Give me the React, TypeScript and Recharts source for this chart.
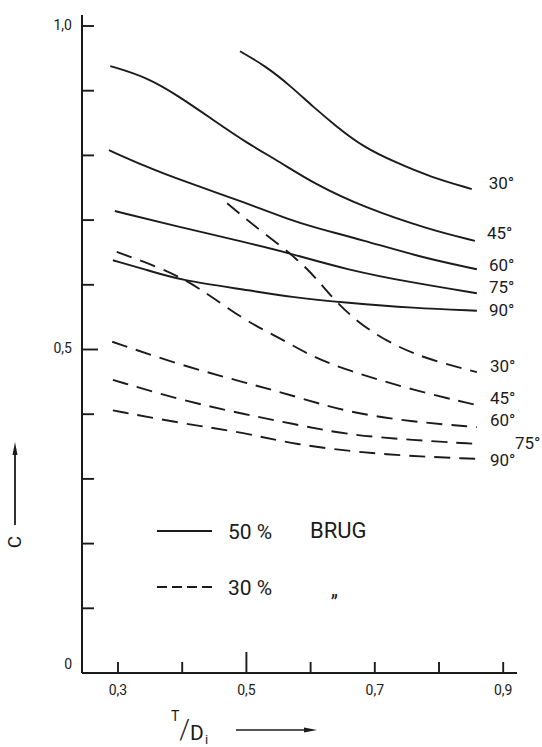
import { LineChart, Line, XAxis, YAxis, Legend } from "recharts";

// C against T/Di, five inclination angles, 50 % and 30 % BRUG
const angles = ["30°", "45°", "60°", "75°", "90°"];

const solid30 = [
  { x: 0.49, y: 0.961 },
  { x: 0.53, y: 0.938 },
  { x: 0.568, y: 0.908 },
  { x: 0.604, y: 0.875 },
  { x: 0.641, y: 0.844 },
  { x: 0.682, y: 0.813 },
  { x: 0.735, y: 0.788 },
  { x: 0.786, y: 0.767 },
  { x: 0.851, y: 0.748 },
];
const solid45 = [
  { x: 0.288, y: 0.938 },
  { x: 0.345, y: 0.921 },
  { x: 0.397, y: 0.89 },
  { x: 0.448, y: 0.855 },
  { x: 0.501, y: 0.819 },
  { x: 0.552, y: 0.79 },
  { x: 0.604, y: 0.757 },
  { x: 0.682, y: 0.72 },
  { x: 0.786, y: 0.685 },
  { x: 0.856, y: 0.668 },
];
const solid60 = [
  { x: 0.286, y: 0.808 },
  { x: 0.345, y: 0.782 },
  { x: 0.397, y: 0.762 },
  { x: 0.501, y: 0.726 },
  { x: 0.568, y: 0.7 },
  { x: 0.604, y: 0.689 },
  { x: 0.682, y: 0.669 },
  { x: 0.77, y: 0.643 },
  { x: 0.859, y: 0.624 },
];
const solid75 = [
  { x: 0.295, y: 0.714 },
  { x: 0.397, y: 0.689 },
  { x: 0.501, y: 0.665 },
  { x: 0.56, y: 0.651 },
  { x: 0.657, y: 0.623 },
  { x: 0.76, y: 0.603 },
  { x: 0.859, y: 0.587 },
];
const solid90 = [
  { x: 0.292, y: 0.638 },
  { x: 0.345, y: 0.623 },
  { x: 0.397, y: 0.607 },
  { x: 0.501, y: 0.592 },
  { x: 0.568, y: 0.581 },
  { x: 0.657, y: 0.572 },
  { x: 0.76, y: 0.564 },
  { x: 0.859, y: 0.56 },
];

const dashed30 = [
  { x: 0.47, y: 0.726 },
  { x: 0.526, y: 0.68 },
  { x: 0.579, y: 0.641 },
  { x: 0.615, y: 0.603 },
  { x: 0.641, y: 0.572 },
  { x: 0.682, y: 0.535 },
  { x: 0.735, y: 0.504 },
  { x: 0.786, y: 0.484 },
  { x: 0.859, y: 0.465 },
];
const dashed45 = [
  { x: 0.298, y: 0.651 },
  { x: 0.361, y: 0.628 },
  { x: 0.407, y: 0.607 },
  { x: 0.448, y: 0.58 },
  { x: 0.501, y: 0.543 },
  { x: 0.557, y: 0.515 },
  { x: 0.604, y: 0.488 },
  { x: 0.657, y: 0.468 },
  { x: 0.76, y: 0.437 },
  { x: 0.859, y: 0.414 },
];
const dashed60 = [
  { x: 0.291, y: 0.512 },
  { x: 0.397, y: 0.476 },
  { x: 0.501, y: 0.448 },
  { x: 0.568, y: 0.43 },
  { x: 0.657, y: 0.403 },
  { x: 0.76, y: 0.388 },
  { x: 0.859, y: 0.38 },
];
const dashed75 = [
  { x: 0.292, y: 0.453 },
  { x: 0.397, y: 0.422 },
  { x: 0.501, y: 0.399 },
  { x: 0.568, y: 0.386 },
  { x: 0.657, y: 0.368 },
  { x: 0.76, y: 0.36 },
  { x: 0.859, y: 0.354 },
];
const dashed90 = [
  { x: 0.292, y: 0.406 },
  { x: 0.397, y: 0.386 },
  { x: 0.501, y: 0.371 },
  { x: 0.568, y: 0.354 },
  { x: 0.708, y: 0.337 },
  { x: 0.859, y: 0.331 },
];

const brug50 = [solid30, solid45, solid60, solid75, solid90];
const brug30 = [dashed30, dashed45, dashed60, dashed75, dashed90];

const xTicks = [0.3, 0.4, 0.5, 0.6, 0.7, 0.8, 0.9];
const xLabelled = [0.3, 0.5, 0.7, 0.9];
const yTicks = [0, 0.1, 0.2, 0.3, 0.4, 0.5, 0.6, 0.7, 0.8, 0.9, 1.0];
const yLabelled = [0, 0.5, 1.0];

const legendRows = [
  { pct: "50 %", note: "BRUG", dashed: false },
  { pct: "30 %", note: "„", dashed: true },
];

const INK = "#1b1b1b";
const FONT = "Roboto, 'DejaVu Sans', sans-serif";
const DASH = "16 9";

// where the angle text sits relative to the last point of each curve
const solidNudge = [
  [17, -6],
  [12, -8],
  [12, -4],
  [12, -6],
  [12, -1],
];
const dashedNudge = [
  [13, -6],
  [13, -7],
  [13, -7],
  [38, -1],
  [13, 1],
];

const comma = (v: number) => (v === 0 ? "0" : v.toFixed(1).replace(".", ","));

const XTick = (props: any) => {
  const { x, y, payload } = props;
  const v = payload.value;
  const len = Math.abs(v - 0.5) < 1e-6 ? 21 : 11;
  const show = xLabelled.some((t) => Math.abs(t - v) < 1e-6);
  return (
    <g>
      <line x1={x} y1={y} x2={x} y2={y - len} stroke={INK} strokeWidth={1.9} />
      {show && (
        <text x={x} y={y + 22} textAnchor="middle" fontSize={14} fontFamily={FONT} fill={INK}>
          {comma(v)}
        </text>
      )}
    </g>
  );
};

const YTick = (props: any) => {
  const { x, y, payload } = props;
  const v = payload.value;
  const show = yLabelled.some((t) => Math.abs(t - v) < 1e-6);
  const len = Math.abs(v - 0.5) < 1e-6 ? 16 : 12;
  return (
    <g>
      {v > 0 && <line x1={x} y1={y} x2={x + len} y2={y} stroke={INK} strokeWidth={1.9} />}
      {show && (
        <text
          x={x - 10}
          y={v === 0 ? y - 4 : y + 4}
          textAnchor="end"
          fontSize={14}
          fontFamily={FONT}
          fill={INK}
        >
          {comma(v)}
        </text>
      )}
    </g>
  );
};

const endLabel = (text: string, last: number, dx: number, dy: number) => (p: any) => {
  if (p.index !== last) return <g />;
  return (
    <text x={p.x + dx} y={p.y + dy + 6} fontSize={17} fontFamily={FONT} fill={INK}>
      {text}
    </text>
  );
};

const yTitle = () => (
  <g>
    <text
      x={21}
      y={542}
      transform="rotate(-90 21 542)"
      textAnchor="middle"
      fontSize={19}
      fontFamily={FONT}
      fill={INK}
    >
      C
    </text>
    <line x1={15} y1={525} x2={15} y2={452} stroke={INK} strokeWidth={1.8} />
    <polygon points="15,442 12.5,455 17.5,455" fill={INK} />
  </g>
);

const xTitle = () => (
  <g fill={INK} fontFamily={FONT}>
    <text x={171} y={721}>
      <tspan fontSize={14}>T</tspan>
      <tspan dx={0} dy={18} fontSize={27} fontWeight={300}>
        /
      </tspan>
      <tspan dx={0} dy={1} fontSize={21}>
        D
      </tspan>
      <tspan dx={1} dy={4} fontSize={13}>
        i
      </tspan>
    </text>
    <line x1={236} y1={730} x2={305} y2={730} stroke={INK} strokeWidth={1.6} />
    <polygon points="317,730 304,727.5 304,732.5" />
  </g>
);

const renderLegend = () => (
  <svg width={240} height={95} style={{ overflow: "visible" }}>
    {legendRows.map((r, i) => {
      const cy = 16 + i * 56;
      return (
        <g key={r.pct}>
          <line
            x1={7}
            x2={62}
            y1={cy}
            y2={cy}
            stroke={INK}
            strokeWidth={1.8}
            strokeDasharray={r.dashed ? "10 5" : undefined}
          />
          <text x={78} y={cy + 8} fontSize={21} fontFamily={FONT} fill={INK}>
            {r.pct}
          </text>
          <text
            x={r.dashed ? 181 : 160}
            y={r.dashed ? cy + 9 : cy + 7}
            fontSize={r.dashed ? 20 : 22}
            fontFamily={FONT}
            fill={INK}
          >
            {r.note}
          </text>
        </g>
      );
    })}
  </svg>
);

export default function App() {
  return (
    <div style={{ position: "absolute", left: 0, top: 0, width: 542, height: 747, background: "#fff" }}>
      <LineChart
        width={542}
        height={747}
        margin={{ top: 15, right: 25, bottom: 44, left: 42 }}
        style={{ fontFamily: FONT }}
      >
        <XAxis
          type="number"
          dataKey="x"
          domain={[0.2439, 0.9215]}
          ticks={xTicks}
          tick={<XTick />}
          tickLine={false}
          tickSize={0}
          tickMargin={0}
          height={30}
          allowDataOverflow
          axisLine={{ stroke: INK, strokeWidth: 2 }}
          label={xTitle}
        />
        <YAxis
          type="number"
          domain={[0, 1.017]}
          ticks={yTicks}
          tick={<YTick />}
          tickLine={false}
          tickSize={0}
          tickMargin={0}
          width={40}
          allowDataOverflow
          axisLine={{ stroke: INK, strokeWidth: 2 }}
          label={yTitle}
        />
        <Legend
          layout="horizontal"
          verticalAlign="middle"
          align="center"
          content={renderLegend}
          wrapperStyle={{ left: 150, top: 515, width: 240, height: 95 }}
        />
        {brug50.map((pts, i) => (
          <Line
            key={`s${i}`}
            name={`50 % ${angles[i]}`}
            data={pts}
            dataKey="y"
            type="basis"
            stroke={INK}
            strokeWidth={1.9}
            dot={false}
            activeDot={false}
            legendType="none"
            isAnimationActive={false}
            label={endLabel(angles[i], pts.length - 1, solidNudge[i][0], solidNudge[i][1])}
          />
        ))}
        {brug30.map((pts, i) => (
          <Line
            key={`d${i}`}
            name={`30 % ${angles[i]}`}
            data={pts}
            dataKey="y"
            type="basis"
            stroke={INK}
            strokeWidth={1.9}
            strokeDasharray={DASH}
            dot={false}
            activeDot={false}
            legendType="none"
            isAnimationActive={false}
            label={endLabel(angles[i], pts.length - 1, dashedNudge[i][0], dashedNudge[i][1])}
          />
        ))}
      </LineChart>
    </div>
  );
}
